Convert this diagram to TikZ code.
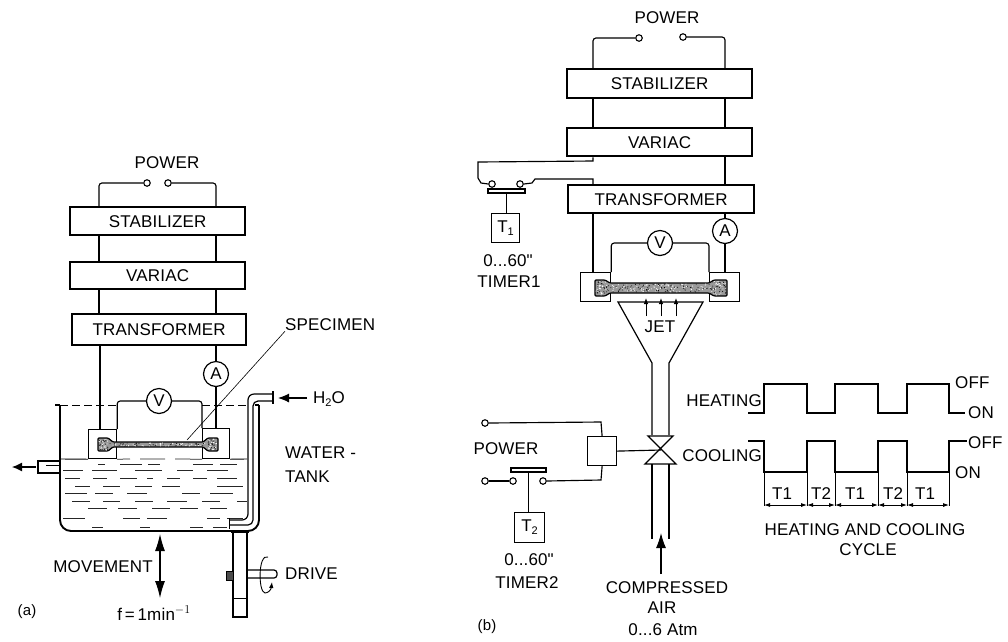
\documentclass[tikz,border=0pt]{standalone}
\usepackage{fontspec}
\setmainfont[LetterSpace=1]{Liberation Sans}
\usetikzlibrary{arrows.meta}
\tikzset{
  wire/.style={line width=1.15pt,rounded corners=3pt},
  plain/.style={line width=1.15pt},
  heavy/.style={line width=1.9pt},
  pipe/.style={line width=1.2pt},
  block/.style={draw,line width=2.3pt,inner sep=0pt,anchor=north west,font=\fontsize{17}{17}\selectfont},
  thinbox/.style={draw,line width=1.2pt,inner sep=0pt,anchor=north west},
  term/.style={draw,circle,fill=white,line width=1.1pt,minimum size=6.5pt,inner sep=0pt},
  meter/.style={draw,circle,fill=white,line width=1.2pt,minimum size=25pt,inner sep=0pt,font=\fontsize{17}{17}\selectfont},
  lab/.style={inner sep=0pt,font=\fontsize{17}{17}\selectfont},
  labs/.style={inner sep=0pt,font=\fontsize{15}{15}\selectfont},
  bar/.style={draw,line width=1.3pt,inner sep=0pt,fill=white},
  stipple/.style={draw,line width=1.2pt,fill=black!40,rounded corners=1pt},
  bigarrow/.style={-{Latex[length=15pt,width=10pt]},line width=1.1pt},
  smallarrow/.style={-{Latex[length=6pt,width=4.5pt]},line width=0.9pt},
  dimarrow/.style={{Latex[length=6pt,width=4pt]}-{Latex[length=6pt,width=4pt]},line width=0.8pt},
  water/.style={line width=0.75pt,black!85}
}
\newcommand{\boxat}[7]{\node[#1] (#2) at (#3,#4) [minimum width=#5pt,minimum height=#6pt] {#7};}
\newcommand{\speckle}[5]{\foreach \i in {1,...,#5} {\pgfmathsetmacro{\px}{#1+rnd*(#2-#1)}\pgfmathsetmacro{\py}{#3+rnd*(#4-#3)}\fill[white] (\px,\py) circle (0.55pt);\pgfmathsetmacro{\qx}{#1+rnd*(#2-#1)}\pgfmathsetmacro{\qy}{#3+rnd*(#4-#3)}\fill[black] (\qx,\qy) circle (0.5pt);}}
\begin{document}
\begin{tikzpicture}[x=1pt,y=-1pt]
\useasboundingbox (0,0) rectangle (1008,641);
\pgfmathsetseed{7}
% ---------- (a) ----------
\node[lab] (apower) at (167,163) {POWER};
\node[term] (at1) at (147,183) {};
\node[term] (at2) at (168,183) {};
\boxat{block}{astab}{69}{206}{175}{28}{STABILIZER}
\boxat{block}{avar}{69}{261}{175}{27}{VARIAC}
\boxat{block}{atrans}{71}{313}{174}{31}{TRANSFORMER}
\coordinate (axL) at (99,0);
\coordinate (axR) at (216,0);
\boxat{thinbox}{ablL}{88}{429}{28}{29}{}
\boxat{thinbox}{ablR}{202}{428}{27}{30}{}
\node[meter] (aA) at (216,374) {A};
\node[meter] (aV) at (159,401) {V};
\draw[wire] (at1.west) -| (astab.north -| axL);
\draw[wire] (at2.east) -| (astab.north -| axR);
\draw[plain] (astab.south -| axL) -- (avar.north -| axL);
\draw[plain] (astab.south -| axR) -- (avar.north -| axR);
\draw[plain] (avar.south -| axL) -- (atrans.north -| axL);
\draw[plain] (avar.south -| axR) -- (atrans.north -| axR);
\coordinate (atl) at (100,0);
\draw[plain] (atrans.south -| atl) -- (ablL.north -| atl);
\draw[plain] (atrans.south -| aA) -- (aA.north);
\draw[plain] (aA.south) -- (aA |- ablR.north);
\draw[wire] (aV.west) -| (ablL.north east);
\draw[wire] (aV.east) -| (ablR.north west);
% tank
\coordinate (tankTL) at (60,405);
\coordinate (tankTR) at (247,405);
\draw[dash pattern=on 8pt off 4pt,line width=0.9pt] (tankTL) -- (ablL.north east |- tankTL) (ablR.north west |- tankTL) -- (tankTR);
\draw[heavy] (55,405) -- (tankTL);
\draw[heavy,rounded corners=11pt] (tankTL) -- (60,531) -- (259,531) -- (259,405);
\draw[line width=1.2pt] (255,405) -- (259,405);
% outlet
\draw[pipe] (60,461) -- (38,461) -- (38,473) -- (60,473);
\draw[line width=0.8pt] (46,465) -- (60,465);
\coordinate (outS) at (36,467);
\coordinate (outE) at (12,467);
\draw[-{Latex[length=10pt,width=9pt]},line width=1.1pt] (outS) -- (outE);
% water
\draw[line width=0.9pt] (60,459) -- (ablL.south west) (ablR.south east) -- (247,459);
\draw[water] (ablL.south east) -- (130,459) (140,459) -- (165,459) (175,459) -- (ablR.south west);
\foreach \a/\b/\c in {98/105/464,120/142/464,148/160/464,193/213/464,220/237/464,
  63/83/470,92/117/470,135/162/470,177/193/470,207/228/470,
  65/80/478,93/107/478,120/137/478,147/153/478,167/180/478,193/207/478,217/237/478,
  75/90/486,103/120/486,135/152/486,162/180/486,217/243/486,
  65/87/493,95/113/493,127/147/493,182/200/493,210/233/493,
  72/90/501,103/120/501,135/153/501,167/187/501,202/220/501,237/247/501,
  88/107/508,118/137/508,152/170/508,180/198/508,210/227/508,
  63/85/518,123/140/518,147/167/518,207/220/518,227/243/518,
  92/103/527,140/150/527,190/203/527,213/227/527}
  {\draw[water] (\a,\c) -- (\b,\c);}
% specimen a
\draw[stipple] (98,438) -- (108,438) -- (113,442) -- (203,442) -- (208,438) -- (218,438) -- (218,451) -- (208,451) -- (203,447) -- (113,447) -- (108,451) -- (98,451) -- cycle;
\speckle{99}{108}{439}{450}{25}
\speckle{208}{217}{439}{450}{25}
\speckle{110}{206}{443}{446}{45}
\coordinate (leadA) at (187,440);
\node[lab,anchor=west] (aspec) at (285,325) {SPECIMEN};
\draw[line width=0.6pt] (leadA) -- (aspec.south west);
% inlet pipe
\draw[pipe,rounded corners=6pt] (273,394) -- (248,394) -- (248,520) -- (229,520);
\draw[pipe,rounded corners=5pt] (273,401) -- (253,401) -- (253,525) -- (229,525);
\draw[line width=1.6pt] (273,391) -- (273,404);
\draw[line width=1pt] (229,518) -- (229,529);
\node[lab,anchor=west] (ah2o) at (313,399) {H\raisebox{-3pt}{\fontsize{11}{11}\selectfont 2}O};
\draw[-{Latex[length=11pt,width=9pt]},line width=1.1pt] (ah2o.west) ++(-6,-1) coordinate (h2s) -- (278,398);
\node[lab,anchor=west] (awater) at (285,453) {WATER -};
\node[lab,anchor=west] (atank) at (285,477) {TANK};
% movement
\node[lab,anchor=east] (amove) at (153,567) {MOVEMENT};
\coordinate (mvT) at (160,534);
\coordinate (mvB) at (160,598);
\draw[{Latex[length=17pt,width=10pt]}-{Latex[length=17pt,width=10pt]},line width=1.1pt] (mvT) -- (mvB);
\node[lab] (af) at (154,613) {f\,=\,1min$^{\fontsize{11}{11}\selectfont -1}$};
% drive
\draw[line width=1.2pt,fill=white] (233,532) rectangle (247,617);
\draw[line width=2.4pt] (231,532) -- (249,532);
\draw[line width=0.8pt] (233,598) -- (247,598);
\draw[line width=1pt,fill=black!70] (226,571) rectangle (233,580);
\draw[line width=1.2pt,rounded corners=3pt] (247,570) -- (277,570) -- (277,578) -- (247,578);
\draw[line width=0.9pt,-{Latex[length=6pt,width=4.5pt]}] (268,557) .. controls (258,553) and (258,592) .. (265,593) .. controls (268,593) and (271,590) .. (272,582);
\node[lab,anchor=west] (adrive) at (285,574) {DRIVE};
\node[labs] (acapa) at (27,612) {(a)};
% ---------- (b) ----------
\node[lab] (bpower) at (667,18) {POWER};
\node[term] (bt1) at (639,38) {};
\node[term] (bt2) at (683,37) {};
\boxat{block}{bstab}{566}{68}{185}{29}{STABILIZER}
\boxat{block}{bvar}{566}{127}{185}{28}{VARIAC}
\boxat{block}{btrans}{567}{184}{186}{28}{TRANSFORMER}
\coordinate (bxL) at (593,0);
\coordinate (bxR) at (725,0);
\draw[wire] (bt1.west) -| (bstab.north -| bxL);
\draw[wire] (bt2.east) -| (bstab.north -| bxR);
\draw[plain] (bstab.south -| bxL) -- (bvar.north -| bxL);
\draw[plain] (bstab.south -| bxR) -- (bvar.north -| bxR);
\draw[plain] (bvar.south -| bxR) -- (btrans.north -| bxR);
\node[term] (bs1) at (492,184) {};
\node[term] (bs2) at (520,184) {};
\draw[plain] (bvar.south -| bxL) -- (593,161) -- (478,162) -- (478,178) -- (481,183) -- (bs1.west);
\draw[plain] (bs2.east) -- (532,183) -- (535,179) -- (593,179) -- (btrans.north -| bxL);
\boxat{bar}{bbar1}{506.5}{191}{37}{4}{}
\boxat{thinbox}{bT1}{491}{213}{28}{29}{}
\node[lab] at (bT1.center) {T\raisebox{-3pt}{\fontsize{11}{11}\selectfont 1}};
\draw[plain] (bbar1.south) -- (bbar1.south |- bT1.north);
\node[lab] (bt60a) at (508,261) {0...60\textquotedbl};
\node[lab] (btm1) at (509,282) {TIMER1};
\boxat{thinbox}{bblL}{580}{272}{30}{29}{}
\boxat{thinbox}{bblR}{709}{272}{30}{29}{}
\node[meter] (bA) at (725,231) {A};
\node[meter] (bV) at (660,243) {V};
\draw[plain] (btrans.south -| bxL) -- (bblL.north -| bxL);
\draw[plain] (btrans.south -| bA) -- (bA.north);
\draw[plain] (bA.south) -- (bA |- bblR.north);
\draw[wire] (bV.west) -| (bblL.north east);
\draw[wire] (bV.east) -| (bblR.north west);
\draw[stipple] (595,280) -- (605,280) -- (610,283) -- (709,283) -- (714,280) -- (727,280) -- (727,296) -- (714,296) -- (709,293) -- (610,293) -- (605,296) -- (595,296) -- cycle;
\speckle{596}{608}{281}{295}{30}
\speckle{712}{726}{281}{295}{30}
\speckle{608}{712}{284}{292}{90}
% funnel
\coordinate (fnL) at (652,363);
\coordinate (fnR) at (669,363);
\draw[line width=1.2pt] (652,435) -- (fnL) -- (618,302) -- (703,302) -- (fnR) -- (669,435);
\foreach \x/\n in {646/a,661/b,676/c} {
  \coordinate (jet\n) at (\x,316);
  \draw[smallarrow] (jet\n) -- (\x,298);
}
\node[lab] (bjet) at (660,327) {JET};
% valve
\coordinate (vC) at (661,450);
\draw[line width=1.3pt] (648,436) -- (673,436) -- (645,464) -- (676,464) -- cycle;
\boxat{thinbox}{bctl}{587}{436}{29}{29}{}
\draw[plain] (bctl.east) -- (vC);
\draw[line width=1.2pt] (652,464) -- (652,539);
\draw[line width=1.2pt] (669,464) -- (669,539);
\node[term] (bp1) at (485,423) {};
\node[term] (bp2) at (485,481) {};
\node[term] (bp3) at (513,481) {};
\node[term] (bp4) at (543,481) {};
\draw[plain] (bp1.east) -- (601,422) -- (bctl.north);
\draw[plain] (bp4.east) -- (601,480) -- (bctl.south);
\draw[plain] (bp2.east) -- (bp3.west);
\boxat{bar}{bbar2}{528.5}{470}{35}{4}{}
\boxat{thinbox}{bT2}{514}{512}{30}{30}{}
\node[lab] at (bT2.center) {T\raisebox{-3pt}{\fontsize{11}{11}\selectfont 2}};
\draw[plain] (bbar2.south) -- (bbar2.south |- bT2.north);
\node[lab] (bpow2) at (506,449) {POWER};
\node[lab] (bt60b) at (529,560) {0...60\textquotedbl};
\node[lab] (btm2) at (527,583) {TIMER2};
\coordinate (airS) at (661,574);
\coordinate (airE) at (661,533);
\draw[bigarrow] (airS) -- (airE);
\node[lab] (bcomp) at (667,588) {COMPRESSED};
\node[lab] (bair) at (662,608) {AIR};
\node[lab] (batm) at (663,630) {0...6 Atm};
\node[labs] (bcapb) at (487,627) {(b)};
% ---------- timing ----------
\node[lab,anchor=east] (theat) at (762,401) {HEATING};
\node[lab,anchor=east] (tcool) at (762,456) {COOLING};
\draw[line width=1.4pt] (748,413) -- (764,413) -- (764,384) -- (807,384) -- (807,413) -- (835,413) -- (835,384) -- (878,384) -- (878,413) -- (907,413) -- (907,384) -- (949,384) -- (949,413) -- (965,413);
\draw[line width=1.4pt] (748,441) -- (764,441) -- (764,472) -- (807,472) -- (807,441) -- (835,441) -- (835,472) -- (878,472) -- (878,441) -- (907,441) -- (907,472) -- (949,472) -- (949,441) -- (967,441);
\node[lab,anchor=west] (toff1) at (955,383) {OFF};
\node[lab,anchor=west] (ton1) at (968,413) {ON};
\node[lab,anchor=west] (toff2) at (968,443) {OFF};
\node[lab,anchor=west] (ton2) at (955,473) {ON};
\foreach \x in {764,807,835,878,907,949} {\draw[line width=0.7pt] (\x,472) -- (\x,506);}
\foreach \a/\b in {764/807,807/835,835/878,878/907,907/949} {\draw[dimarrow] (\a,505) -- (\b,505);}
\node[lab] (d1) at (782,494) {T1};
\node[lab] (d2) at (821,494) {T2};
\node[lab] (d3) at (855,494) {T1};
\node[lab] (d4) at (893,494) {T2};
\node[lab] (d5) at (925,494) {T1};
\node[lab] (tcap1) at (865,530) {HEATING AND COOLING};
\node[lab] (tcap2) at (868,550) {CYCLE};
\end{tikzpicture}
\end{document}
